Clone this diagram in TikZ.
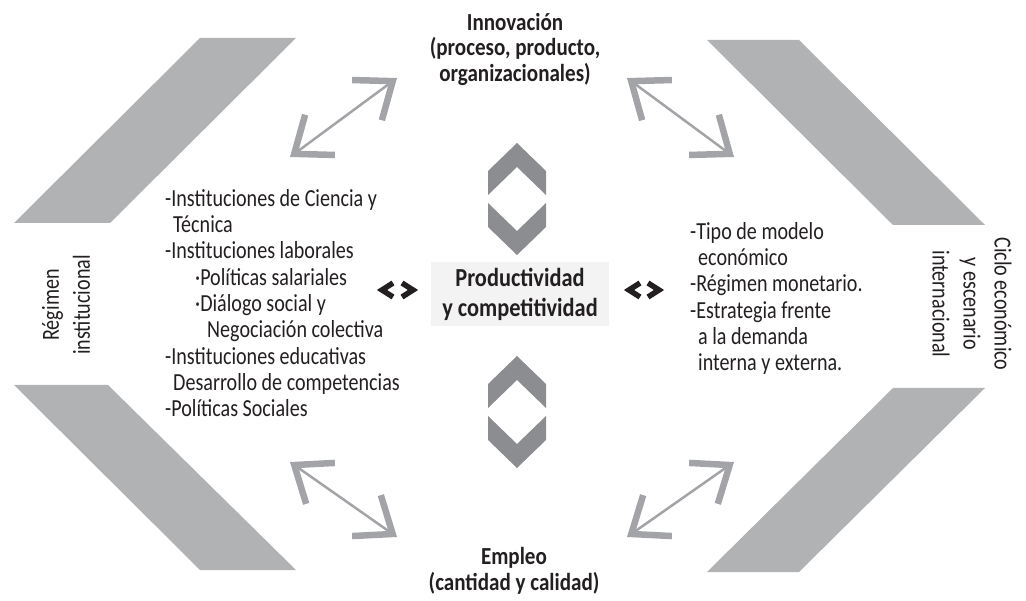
\documentclass[tikz,border=0pt]{standalone}
\usepackage{fontspec}
\setmainfont{Carlito}[FakeStretch=0.82, BoldFeatures={FakeStretch=0.86}]
\usetikzlibrary{arrows.meta, positioning}

\definecolor{bandgray}{HTML}{B1B2B4}
\definecolor{chevgray}{HTML}{8C8D90}
\definecolor{arrowgray}{HTML}{A3A4A7}
\definecolor{boxgray}{HTML}{F3F3F3}
\definecolor{inkblack}{HTML}{231F20}

\tikzset{
  band/.style={fill=bandgray},
  chev/.style={fill=chevgray},
  twoway/.style={draw=arrowgray, line width=2.5pt,
    {Straight Barb[length=32pt,width=50pt,line width=6.5pt]}-{Straight Barb[length=32pt,width=50pt,line width=6.5pt]}},
  tick/.style={draw=inkblack, line width=5.5pt, miter limit=4},
  title/.style={text=inkblack, align=center, inner sep=0pt, font=\bfseries\fontsize{24.5}{25.5}\selectfont},
  listtext/.style={text=inkblack, align=left, inner sep=0pt, font=\fontsize{24.5}{26.3}\selectfont},
  sidetext/.style={text=inkblack, align=center, inner sep=0pt, font=\fontsize{24.5}{31}\selectfont},
  prodbox/.style={fill=boxgray, align=center, text=inkblack, minimum width=178pt, minimum height=64pt,
    inner sep=0pt, font=\bfseries\fontsize{26}{30}\selectfont}
}

\begin{document}
\begin{tikzpicture}[x=1pt, y=-1pt]
\useasboundingbox (0,0) rectangle (1026,601);

% grey side bands
\fill[band] (200,38) -- (296,38) -- (110,223) -- (14,223) -- cycle;
\fill[band] (707,40) -- (799,40) -- (985,225) -- (893,225) -- cycle;
\fill[band] (14,385) -- (108,385) -- (296,570) -- (200,570) -- cycle;
\fill[band] (893,388) -- (985,388) -- (799,572) -- (707,572) -- cycle;

% chevron pairs above and below the centre
\foreach \dy in {0,213}{
  \fill[chev] (488,171+\dy) -- (517,143+\dy) -- (546,171+\dy) -- (546,195+\dy) -- (517,167+\dy) -- (488,195+\dy) -- cycle;
  \fill[chev] (488,203+\dy) -- (517,231+\dy) -- (546,203+\dy) -- (546,227+\dy) -- (517,255+\dy) -- (488,227+\dy) -- cycle;
}

\node[prodbox] (prod) at (520,294) {Productividad\\y competitividad};

\node[title] (innov) at (515,49) {Innovación\\(proceso, producto,\\organizacionales)};
\node[title] (empleo) at (514,571) {Empleo\\(cantidad y calidad)};

\node[sidetext, rotate=90] (regimen) at (66,305) {Régimen\\institucional};
\node[sidetext, rotate=-90] (ciclo) at (972,304) {Ciclo económico\\y escenario\\internacional};

\node[listtext, anchor=north west] (inst) at (165,189) {%
  -Instituciones de Ciencia y\\
  \hspace*{8pt}Técnica\\
  -Instituciones laborales\\
  \hspace*{30pt}·Políticas salariales\\
  \hspace*{30pt}·Diálogo social y\\
  \hspace*{42pt}Negociación colectiva\\
  -Instituciones educativas\\
  \hspace*{8pt}Desarrollo de competencias\\
  -Políticas Sociales};

\node[listtext, anchor=north west] (macro) at (690,222) {%
  -Tipo de modelo\\
  \hspace*{8pt}económico\\
  -Régimen monetario.\\
  -Estrategia frente\\
  \hspace*{8pt}a la demanda\\
  \hspace*{8pt}interna y externa.};

% two-way arrows
\coordinate (tlA) at (290,157); \coordinate (tlB) at (397,78);
\coordinate (trA) at (627,78);  \coordinate (trB) at (734,157);
\coordinate (blA) at (290,462); \coordinate (blB) at (397,537);
\coordinate (brA) at (627,537); \coordinate (brB) at (734,462);
\draw[twoway] (tlA) -- (tlB);
\draw[twoway] (trA) -- (trB);
\draw[twoway] (blA) -- (blB);
\draw[twoway] (brA) -- (brB);

% small black ticks beside the box
\draw[tick] (393,283) -- (382,290) -- (393,297);
\draw[tick] (402,283) -- (413,290) -- (402,297);
\draw[tick] (640,283) -- (629,290) -- (640,297);
\draw[tick] (648,283) -- (659,290) -- (648,297);
\end{tikzpicture}
\end{document}
